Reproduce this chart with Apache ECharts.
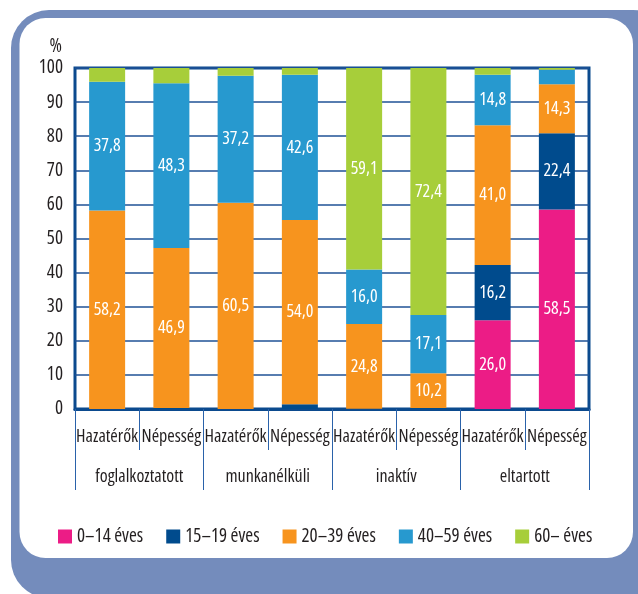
<!DOCTYPE html>
<html>
<head>
<meta charset="utf-8">
<script src="https://cdn.jsdelivr.net/npm/echarts@6/dist/echarts.min.js"></script>
<style>
html,body{margin:0;padding:0;background:#fff;}
#c{width:638px;height:594px;}
</style>
</head>
<body>
<div id="c"></div>
<script>
const categories = ['Hazatérők','Népesség','Hazatérők','Népesség','Hazatérők','Népesség','Hazatérők','Népesség'];
const groups = ['foglalkoztatott','munkanélküli','inaktív','eltartott'];
const seriesNames = ['0–14 éves','15–19 éves','20–39 éves','40–59 éves','60– éves'];
const age0_14  = [0,    0,    0,    0,    0,    0,    26.0, 58.5];
const age15_19 = [0,    0.3,  0,    1.4,  0.1,  0.3,  16.2, 22.4];
const age20_39 = [58.2, 46.9, 60.5, 54.0, 24.8, 10.2, 41.0, 14.3];
const age40_59 = [37.8, 48.3, 37.2, 42.6, 16.0, 17.1, 14.8, 4.3];
const age60    = [4.0,  4.5,  2.3,  2.0,  59.1, 72.4, 2.0,  0.5];
const yTicks = [0,10,20,30,40,50,60,70,80,90,100];

const colors = ['#ec1c86','#004b8d','#f7941e','#2799cf','#a7ce3a'];
const FONT = '"Open Sans", sans-serif';
const FW = '500 ultra-condensed';
const TXT = '#231f20';
const allData = [age0_14, age15_19, age20_39, age40_59, age60];
function ts(size, color){ return {fontFamily:FONT, fontStyle:'normal', fontWeight:FW, fontSize:size, color:color||TXT}; }

function render(){
const chart = echarts.init(document.getElementById('c'));
chart.setOption({
  animation: false,
  textStyle: {fontFamily: FONT},
  graphic: [
    {type:'rect', z:-20, shape:{x:11, y:10, width:660, height:588, r:38}, style:{fill:'#748cbc'}},
    {type:'rect', z:-19, shape:{x:19.5, y:18, width:613.5, height:540, r:26}, style:{fill:'#ffffff'}}
  ],
  grid: {left:75, right:49, top:68, bottom:185, show:true, borderColor:'#0b4a8e', borderWidth:3, backgroundColor:'transparent'},
  legend: {
    left:58, top:527, padding:0, width:600, itemWidth:14, itemHeight:14, itemGap:23,
    icon:'rect',
    textStyle: ts(19),
    data: seriesNames
  },
  xAxis: [
    {
      type:'category', data:categories, position:'bottom',
      axisLine:{show:true, lineStyle:{color:'#0b4a8e', width:3}},
      axisTick:{show:true, length:41, lineStyle:{color:'#2a62aa', width:1}},
      axisLabel: Object.assign(ts(18), {margin:19, interval:0})
    },
    {
      type:'category', data:groups, position:'bottom', offset:41,
      axisLine:{show:false},
      axisTick:{show:true, length:40, lineStyle:{color:'#2a62aa', width:1}},
      axisLabel: Object.assign(ts(18), {margin:18, interval:0})
    }
  ],
  yAxis: {
    type:'value', min:yTicks[0], max:yTicks[yTicks.length-1], interval:10,
    name:'%', nameLocation:'end', nameGap:12,
    nameTextStyle: Object.assign(ts(19), {align:'right', padding:[0,13,0,0]}),
    axisLine:{show:false}, axisTick:{show:false},
    axisLabel: Object.assign(ts(19), {margin:12}),
    splitLine:{show:true, lineStyle:{color:'#1f5296', width:1.5}}
  },
  series: seriesNames.map((name, i) => ({
    name: name, type:'bar', stack:'total', xAxisIndex:0, barWidth:36,
    data: allData[i],
    itemStyle:{color:colors[i]},
    label: Object.assign(ts(18, '#ffffff'), {
      show:true, position:'inside',
      formatter: p => p.value >= 10 ? p.value.toFixed(1).replace('.', ',') : ''
    })
  }))
});
}
let done = false;
function go(){ if(!done){ done = true; render(); } }
if (document.fonts && document.fonts.load) {
  document.fonts.load('normal 500 ultra-condensed 18px "Open Sans"').then(go, go);
  setTimeout(go, 1500);
} else { go(); }
</script>
</body>
</html>
